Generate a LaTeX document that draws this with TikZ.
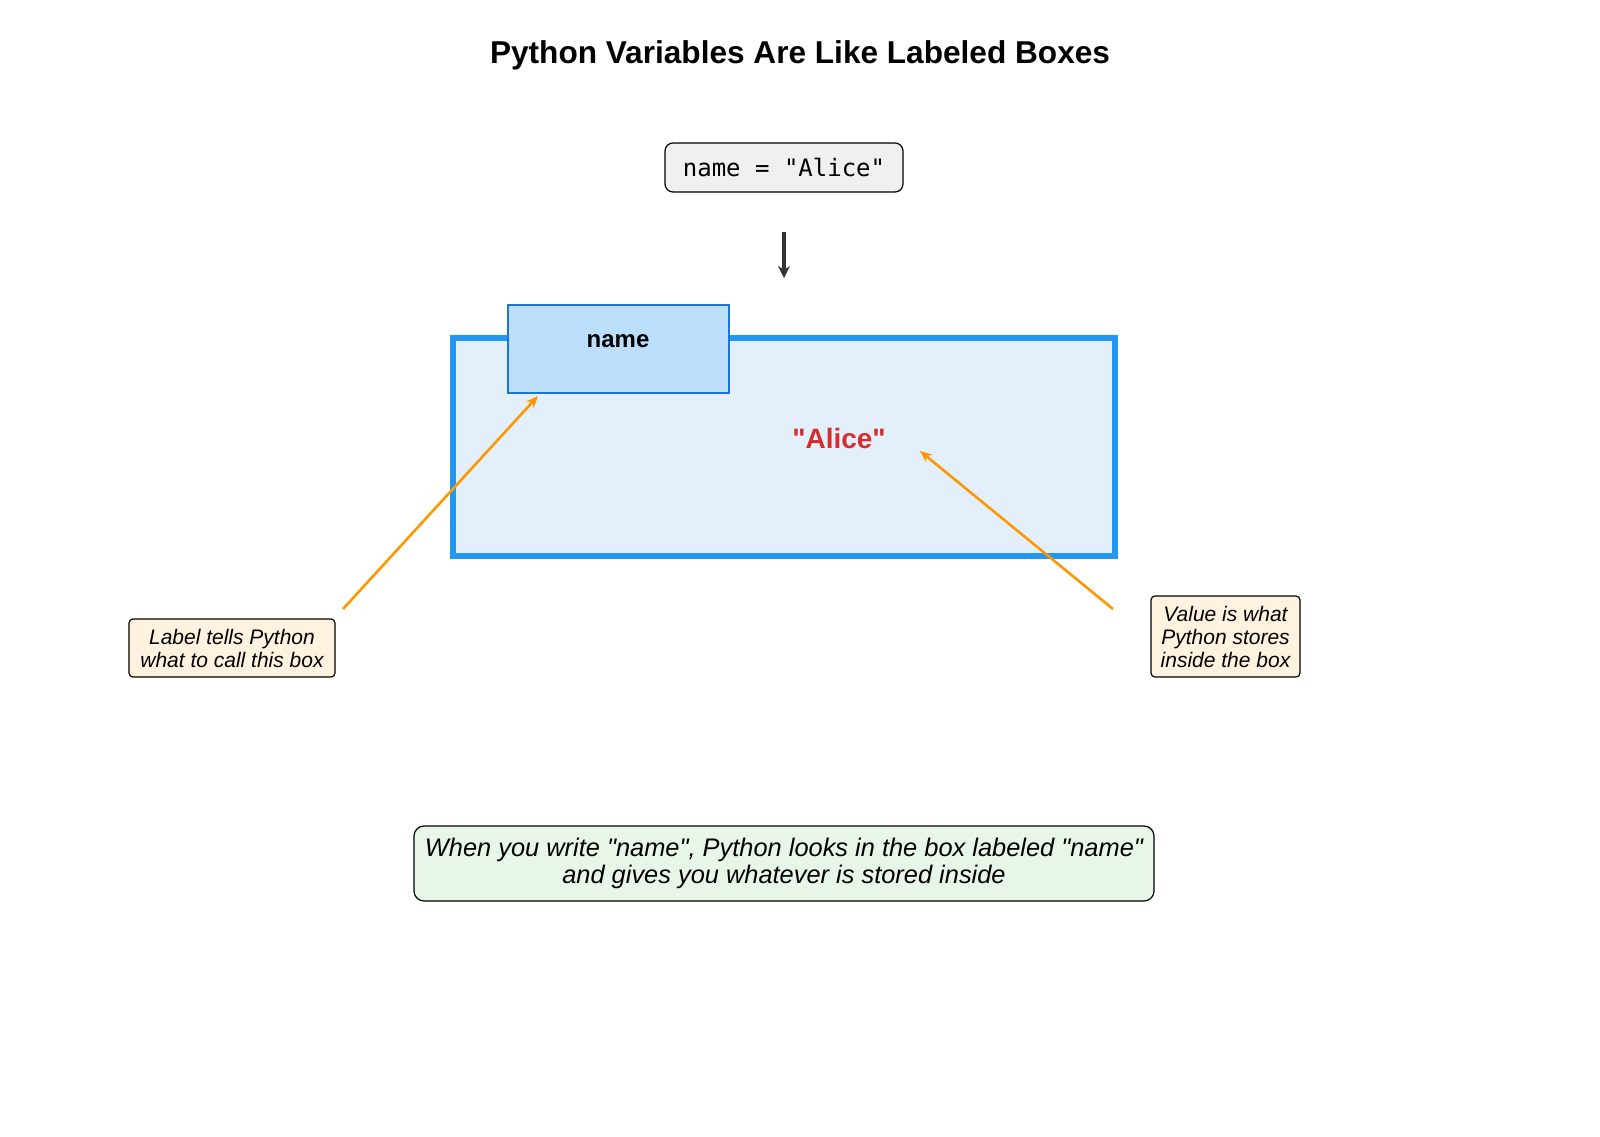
\documentclass[tikz,border=0pt]{standalone}
\usepackage{fontspec}
\setmainfont{Liberation Sans}[Ligatures=TeXOff]
\setmonofont{DejaVu Sans Mono}
\usetikzlibrary{arrows.meta}
\definecolor{boxblue}{HTML}{2196F3}
\definecolor{boxfill}{HTML}{E3F0FB}
\definecolor{tagblue}{HTML}{1976D2}
\definecolor{tagfill}{HTML}{BBDEFB}
\definecolor{valred}{HTML}{D32F2F}
\definecolor{noteorange}{HTML}{FF9800}
\definecolor{notefill}{HTML}{FFF3E0}
\definecolor{sumfill}{HTML}{E8F5E9}
\definecolor{codefill}{HTML}{F0F0F0}
\begin{document}
\begin{tikzpicture}[x=0.5pt,y=-0.5pt,
  note/.style={draw,rounded corners=2pt,fill=notefill,line width=0.6pt,align=center,
    font=\fontsize{10.5}{11.5}\selectfont\itshape,inner sep=0pt},
  pointer/.style={noteorange,line width=1.3pt,-{Stealth[length=6pt,width=5pt,open]}}]
\useasboundingbox (0,0) rectangle (1600,1136);
\node (title) at (800,55) {\fontsize{15.8}{18}\selectfont\bfseries Python Variables Are Like Labeled Boxes};
\node[draw,rounded corners=4pt,fill=codefill,line width=0.6pt,minimum width=119pt,minimum height=24.5pt,
  font=\ttfamily\fontsize{12}{14}\selectfont] (code) at (784,167.5) {name = "Alice"};
\coordinate (top) at (784,232);
\coordinate (bot) at (784,278);
\draw[black!80,line width=2pt,-{Stealth[length=6pt,width=6pt]}] (top) -- (bot);
\node[draw=boxblue,fill=boxfill,line width=3pt,minimum width=331pt,minimum height=109pt] (box) at (784,447) {};
\node[draw=tagblue,fill=tagfill,line width=1.3pt,minimum width=110.5pt,minimum height=44pt] (tag) at (618.5,349) {};
\node at (618,341) {\fontsize{12}{14}\selectfont\bfseries name};
\node[text=valred] (val) at (839,438) {\fontsize{14}{16}\selectfont\bfseries "Alice"};
\node[note,minimum width=103pt,minimum height=29pt] (lnote) at (232,648) {Label tells Python\\what to call this box};
\node[note,minimum width=74.5pt,minimum height=40.5pt] (rnote) at (1225.5,636.5) {Value is what\\Python stores\\inside the box};
\coordinate (lstart) at (343,609);
\coordinate (lend) at (538,396);
\coordinate (rstart) at (1113,609);
\coordinate (rend) at (920,451);
\draw[pointer] (lstart) -- (lend);
\draw[pointer] (rstart) -- (rend);
\node[draw,rounded corners=5pt,fill=sumfill,line width=0.6pt,minimum width=370pt,minimum height=37.5pt,align=center,
  font=\fontsize{12.7}{13.5}\selectfont\itshape,inner sep=0pt] (sum) at (784,863.5)
  {When you write "name", Python looks in the box labeled "name"\\and gives you whatever is stored inside};
\end{tikzpicture}
\end{document}
